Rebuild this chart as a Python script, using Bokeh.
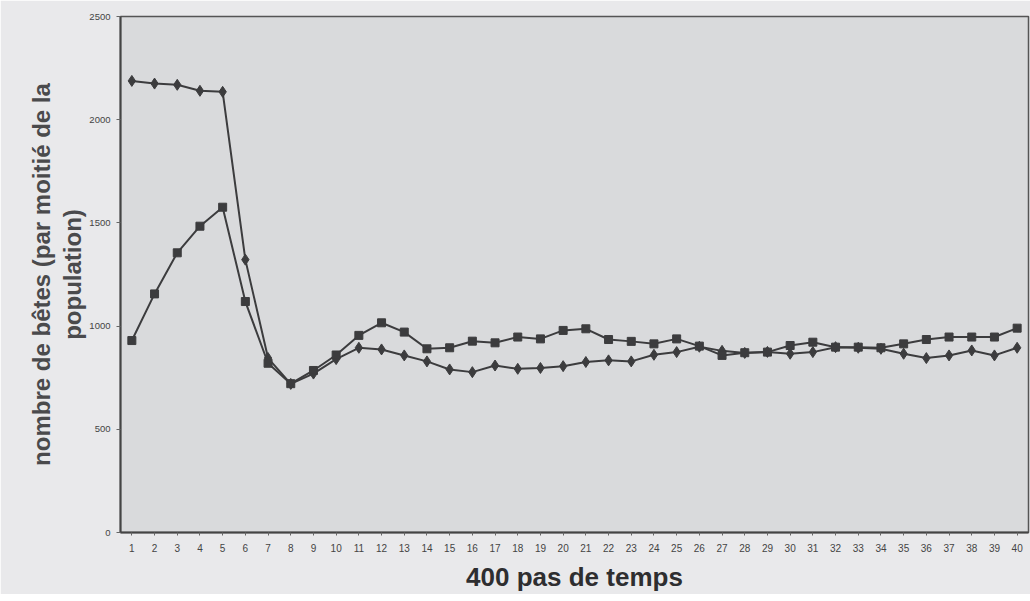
from bokeh.plotting import figure
from bokeh.models import Range1d, FixedTicker, Title
from bokeh.embed import file_html
from bokeh.resources import INLINE

steps = list(range(1, 41))
tick_labels = [str(s) for s in steps]

# diamond-marker series
serie_losange = [2188, 2175, 2169, 2140, 2135, 1322, 845, 720, 770, 840,
                 895, 887, 858, 829, 790, 777, 809, 793, 797, 806,
                 826, 834, 829, 861, 874, 900, 880, 870, 875, 866,
                 874, 898, 895, 890, 866, 845, 858, 882, 858, 895]
# square-marker series
serie_carre = [930, 1156, 1355, 1484, 1576, 1119, 820, 721, 785, 860,
               955, 1016, 971, 890, 895, 927, 919, 947, 938, 979,
               987, 935, 926, 914, 938, 903, 858, 871, 874, 906,
               922, 898, 898, 895, 914, 935, 947, 947, 947, 990]

y_ticks = [0, 500, 1000, 1500, 2000, 2500]

FONT = "Liberation Sans"
LINE = "#3c3c3e"

p = figure(width=1030, height=594, output_backend="svg", toolbar_location=None,
           x_range=Range1d(0.5, 40.5), y_range=Range1d(0, 2500))
p.min_border_left = 120
p.min_border_right = 2
p.min_border_top = 16
p.min_border_bottom = 10
p.background_fill_color = "#d9dadc"
p.border_fill_color = "#e9e9eb"
p.outline_line_color = "#555555"
p.outline_line_width = 1.5
p.grid.visible = False

p.line(steps, serie_losange, line_color=LINE, line_width=2)
p.scatter(steps, serie_losange, marker="diamond", size=11, fill_color=LINE, line_color=LINE)
p.line(steps, serie_carre, line_color=LINE, line_width=2)
p.scatter(steps, serie_carre, marker="square", size=8, fill_color=LINE, line_color=LINE)

xa = p.xaxis[0]
xa.ticker = FixedTicker(ticks=steps)
xa.major_label_overrides = {s: l for s, l in zip(steps, tick_labels)}
xa.major_label_text_font = FONT
xa.major_label_text_font_size = "10px"
xa.major_label_text_color = "#444444"
xa.major_tick_in = 0
xa.major_tick_out = 3
xa.minor_tick_out = 0
xa.minor_tick_in = 0
xa.axis_line_color = "#444444"
xa.axis_line_width = 2
xa.major_tick_line_color = "#666666"
xa.major_label_standoff = 8
xa.axis_label = "400 pas de temps"
xa.axis_label_text_font = FONT
xa.axis_label_text_font_style = "bold"
xa.axis_label_text_font_size = "26px"
xa.axis_label_text_color = "#2e2e30"
xa.axis_label_standoff = 7

ya = p.yaxis[0]
ya.ticker = FixedTicker(ticks=y_ticks)
ya.major_label_text_font = FONT
ya.major_label_text_font_size = "9.5px"
ya.major_label_text_color = "#444444"
ya.major_tick_in = 0
ya.major_tick_out = 4
ya.minor_tick_out = 0
ya.minor_tick_in = 0
ya.axis_line_color = "#444444"
ya.axis_line_width = 2
ya.major_tick_line_color = "#666666"
ya.major_label_standoff = 6

t2 = Title(text="population)", align="center", text_font=FONT, text_font_size="24px",
           text_font_style="bold", text_color="#4a4a4c", standoff=1)
t1 = Title(text="nombre de bêtes (par moitié de la", align="center", text_font=FONT,
           text_font_size="24px", text_font_style="bold", text_color="#4a4a4c", standoff=3)
p.add_layout(t2, "left")
p.add_layout(t1, "left")

open("out.html", "w").write(file_html(p, INLINE))
